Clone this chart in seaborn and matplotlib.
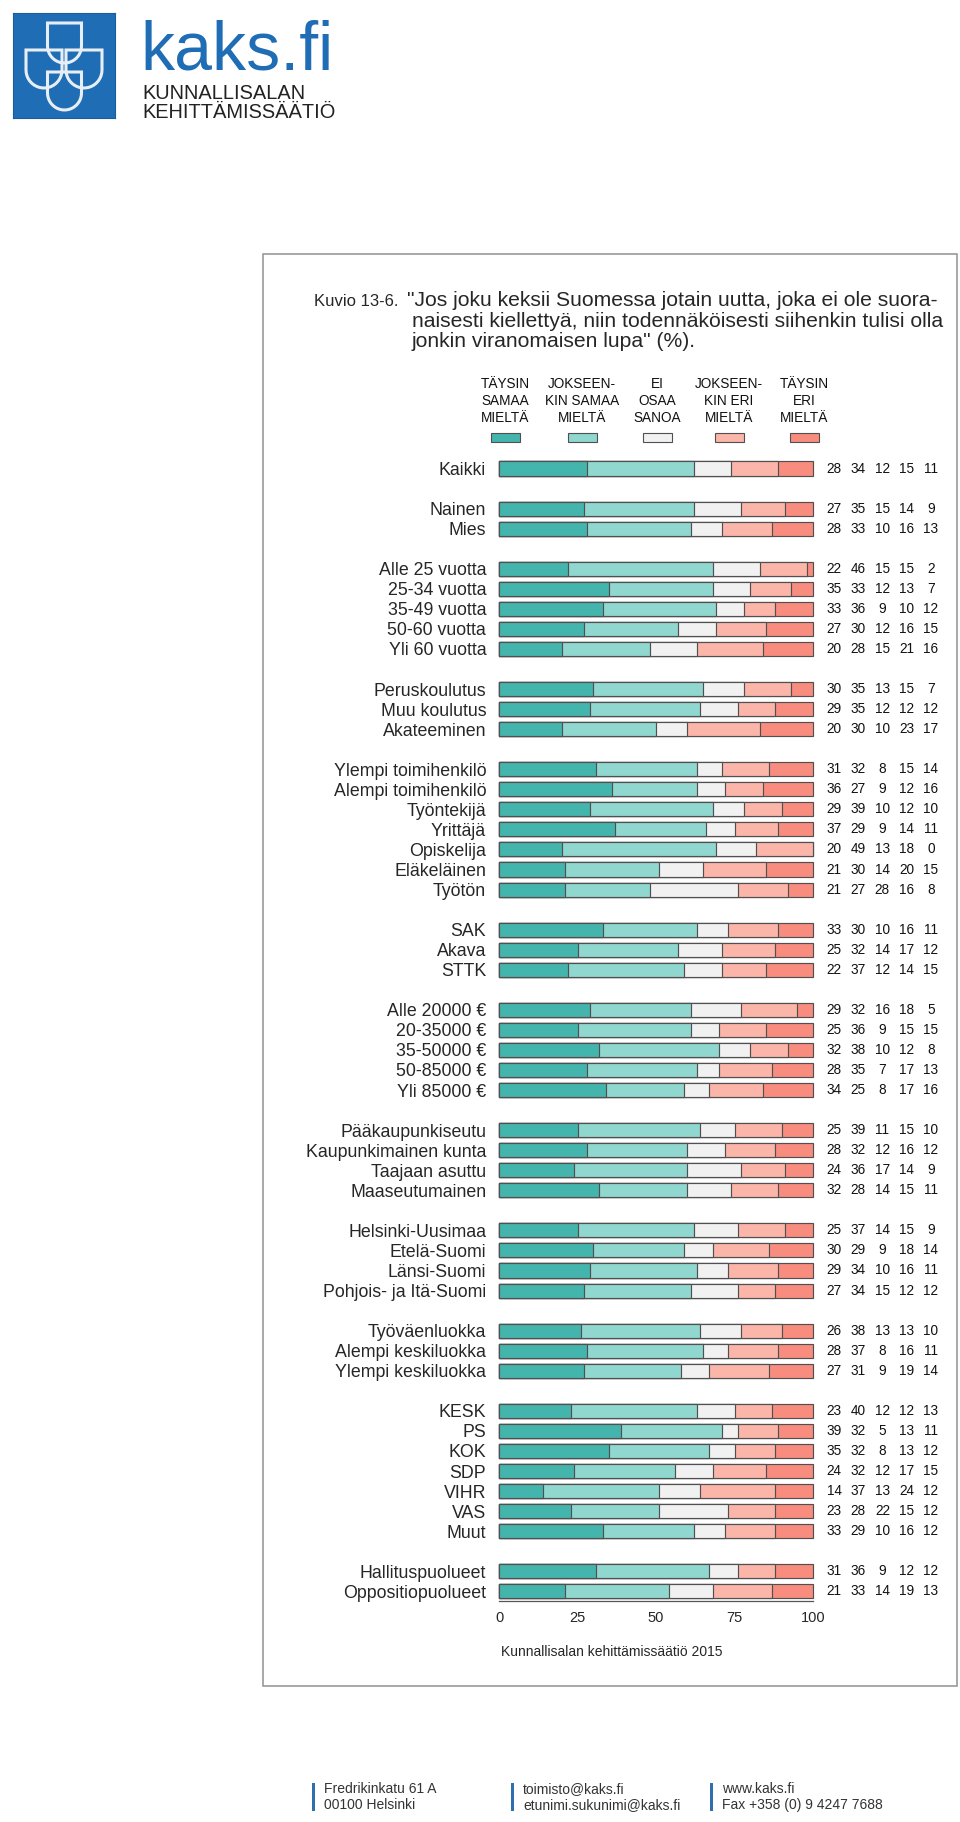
import numpy as np
import pandas as pd
import matplotlib
matplotlib.use("Agg")
import matplotlib.pyplot as plt
import seaborn as sns
from matplotlib.patches import Rectangle, PathPatch
from matplotlib.path import Path

# ---------------- data ----------------
categories = [
    "Kaikki",
    "Nainen", "Mies",
    "Alle 25 vuotta", "25-34 vuotta", "35-49 vuotta", "50-60 vuotta", "Yli 60 vuotta",
    "Peruskoulutus", "Muu koulutus", "Akateeminen",
    "Ylempi toimihenkilö", "Alempi toimihenkilö", "Työntekijä", "Yrittäjä",
    "Opiskelija", "Eläkeläinen", "Työtön",
    "SAK", "Akava", "STTK",
    "Alle 20000 €", "20-35000 €", "35-50000 €", "50-85000 €", "Yli 85000 €",
    "Pääkaupunkiseutu", "Kaupunkimainen kunta", "Taajaan asuttu", "Maaseutumainen",
    "Helsinki-Uusimaa", "Etelä-Suomi", "Länsi-Suomi", "Pohjois- ja Itä-Suomi",
    "Työväenluokka", "Alempi keskiluokka", "Ylempi keskiluokka",
    "KESK", "PS", "KOK", "SDP", "VIHR", "VAS", "Muut",
    "Hallituspuolueet", "Oppositiopuolueet",
]
group_sizes = [1, 2, 5, 3, 7, 3, 5, 4, 4, 3, 7, 2]

taysin_samaa = [28, 27, 28, 22, 35, 33, 27, 20, 30, 29, 20, 31, 36, 29, 37, 20, 21, 21,
                33, 25, 22, 29, 25, 32, 28, 34, 25, 28, 24, 32, 25, 30, 29, 27, 26, 28, 27,
                23, 39, 35, 24, 14, 23, 33, 31, 21]
jokseenkin_samaa = [34, 35, 33, 46, 33, 36, 30, 28, 35, 35, 30, 32, 27, 39, 29, 49, 30, 27,
                    30, 32, 37, 32, 36, 38, 35, 25, 39, 32, 36, 28, 37, 29, 34, 34, 38, 37, 31,
                    40, 32, 32, 32, 37, 28, 29, 36, 33]
ei_osaa_sanoa = [12, 15, 10, 15, 12, 9, 12, 15, 13, 12, 10, 8, 9, 10, 9, 13, 14, 28,
                 10, 14, 12, 16, 9, 10, 7, 8, 11, 12, 17, 14, 14, 9, 10, 15, 13, 8, 9,
                 12, 5, 8, 12, 13, 22, 10, 9, 14]
jokseenkin_eri = [15, 14, 16, 15, 13, 10, 16, 21, 15, 12, 23, 15, 12, 12, 14, 18, 20, 16,
                  16, 17, 14, 18, 15, 12, 17, 17, 15, 16, 14, 15, 15, 18, 16, 12, 13, 16, 19,
                  12, 13, 13, 17, 24, 15, 16, 12, 19]
taysin_eri = [11, 9, 13, 2, 7, 12, 15, 16, 7, 12, 17, 14, 16, 10, 11, 0, 15, 8,
              11, 12, 15, 5, 15, 8, 13, 16, 10, 12, 9, 11, 9, 14, 11, 12, 10, 11, 14,
              13, 11, 12, 15, 12, 12, 12, 12, 13]

legend_labels = ["TÄYSIN\nSAMAA\nMIELTÄ", "JOKSEEN-\nKIN SAMAA\nMIELTÄ", "EI\nOSAA\nSANOA",
                 "JOKSEEN-\nKIN ERI\nMIELTÄ", "TÄYSIN\nERI\nMIELTÄ"]
x_ticks = [0, 25, 50, 75, 100]

title_prefix = "Kuvio 13-6."
title_lines = ['"Jos joku keksii Suomessa jotain uutta, joka ei ole suora-',
               'naisesti kiellettyä, niin todennäköisesti siihenkin tulisi olla',
               'jonkin viranomaisen lupa" (%).']
source_text = "Kunnallisalan kehittämissäätiö 2015"
footer_blocks = [["Fredrikinkatu 61 A", "00100 Helsinki"],
                 ["toimisto@kaks.fi", "etunimi.sukunimi@kaks.fi"],
                 ["www.kaks.fi", "Fax +358 (0) 9 4247 7688"]]

# ---------------- style ----------------
colors = ["#44b5ad", "#8fd7cf", "#f1f1f1", "#fbb5a9", "#f88d7f"]
edge = "#505050"
W, H = 960, 1822
sns.set_style("white")
MAIN = ["Liberation Sans", "DejaVu Sans"]
plt.rcParams["font.family"] = MAIN

fig = plt.figure(figsize=(W / 100, H / 100), dpi=100)
fig.patch.set_facecolor("white")


def fx(x):
    return x / W


def fy(y):
    return 1 - y / H


# ---------------- order with spacer rows ----------------
order, ylabels = [], []
idx = 0
for gi, g in enumerate(group_sizes):
    if gi > 0:
        order.append(" " * gi)
        ylabels.append("")
    for _ in range(g):
        order.append(categories[idx])
        ylabels.append(categories[idx])
        idx += 1
n_rows = len(order)

series = [taysin_samaa, jokseenkin_samaa, ei_osaa_sanoa, jokseenkin_eri, taysin_eri]
df = pd.DataFrame({"cat": categories})
cum = np.zeros(len(categories))
for k, s in enumerate(series):
    cum = cum + np.array(s, dtype=float)
    df[f"cum{k}"] = cum

# ---------------- axes geometry (pixels) ----------------
x0, s = 499.0, 3.14
row0, step = 468.5, 20.05
ax_left = x0 - s * 1
ax_right = x0 + s * 101
ax_top = row0 - step / 2
ax_bot = row0 + (n_rows - 0.5) * step
ax = fig.add_axes([fx(ax_left), fy(ax_bot), (ax_right - ax_left) / W, (ax_bot - ax_top) / H])

for k in reversed(range(5)):
    sns.barplot(data=df, y="cat", x=f"cum{k}", order=order, orient="h",
                color=colors[k], saturation=1, edgecolor=edge, linewidth=0.85,
                width=0.7, errorbar=None, ax=ax)

ax.set_ylim(n_rows - 0.5, -0.5)
ax.set_xlim(-1, 101)
ax.set_yticks(range(n_rows))
ax.set_yticklabels(ylabels, fontsize=12.8)
ax.set_xticks(x_ticks)
ax.set_xticklabels([str(t) for t in x_ticks], fontsize=10.5)
ax.set_xlabel("")
ax.set_ylabel("")
ax.tick_params(axis="y", length=0, pad=7.0)
ax.tick_params(axis="x", length=4, width=0.9, color="#555555", direction="out", pad=3)
for sp in ["left", "right", "top"]:
    ax.spines[sp].set_visible(False)
ax.spines["bottom"].set_bounds(0, 100)
ax.spines["bottom"].set_color("#555555")
ax.spines["bottom"].set_linewidth(0.9)
ax.set_facecolor("none")

# numbers at right
num_x0, num_step = (834 - x0) / s, 24.2 / s
for i, cat in enumerate(categories):
    p = order.index(cat)
    for j, ser in enumerate(series):
        ax.text(num_x0 + j * num_step, p, str(ser[i]), ha="center", va="center",
                fontsize=9.8, color="#111111", clip_on=False)

# ---------------- legend ----------------
leg_cx = [505, 582, 657, 729, 804]
leg_base = [388, 405, 422]
for k, lab in enumerate(legend_labels):
    for li, line in enumerate(lab.split("\n")):
        fig.text(fx(leg_cx[k]), fy(leg_base[li]), line, ha="center", va="baseline",
                 fontsize=9.8, color="#111111")
    fig.patches.append(Rectangle((fx(leg_cx[k] - 14.5), fy(442)), 29 / W, 9 / H,
                                 transform=fig.transFigure, facecolor=colors[k],
                                 edgecolor=edge, linewidth=0.8))

# ---------------- title ----------------
fig.text(fx(314), fy(306.5), title_prefix, ha="left", va="baseline", fontsize=12)
fig.text(fx(407), fy(306.5), title_lines[0], ha="left", va="baseline", fontsize=15.2)
fig.text(fx(412), fy(327), title_lines[1], ha="left", va="baseline", fontsize=15.2)
fig.text(fx(412), fy(347), title_lines[2], ha="left", va="baseline", fontsize=15.2)

# source
fig.text(fx(501), fy(1652), source_text, ha="left", va="center", fontsize=10)

# frame
fig.patches.append(Rectangle((fx(263), fy(1686)), (957 - 263) / W, (1686 - 254) / H,
                             transform=fig.transFigure, fill=False,
                             edgecolor="#9a9a9a", linewidth=1.2))

# ---------------- footer ----------------
foot_x = [313, 512, 711]
for bx, block in zip(foot_x, footer_blocks):
    fig.patches.append(Rectangle((fx(bx - 1.5), fy(1811)), 3 / W, 28 / H,
                                 transform=fig.transFigure, facecolor="#2f6fae",
                                 edgecolor="none"))
    for li, line in enumerate(block):
        fig.text(fx(bx + 11), fy(1789 + li * 16), line, ha="left", va="center",
                 fontsize=10, color="#333333")

# ---------------- logo ----------------
lax = fig.add_axes([fx(13), fy(118), 102 / W, 105 / H])
lax.set_xlim(13, 115)
lax.set_ylim(118, 13)
lax.set_facecolor("#1f6db5")
lax.set_xticks([])
lax.set_yticks([])
for sp in lax.spines.values():
    sp.set_color("#1a5d9c")


def shield(cx, top, w, h):
    r = w / 2
    verts = [(cx - r, top), (cx + r, top), (cx + r, top + h - r)]
    codes = [Path.MOVETO, Path.LINETO, Path.LINETO]
    th = np.linspace(0, np.pi, 20)
    for t in th[1:]:
        verts.append((cx + r * np.cos(t), top + h - r + r * np.sin(t)))
        codes.append(Path.LINETO)
    verts.append((cx - r, top))
    codes.append(Path.CLOSEPOLY)
    return Path(verts, codes)


for (cx, top, w, h) in [(64.5, 23, 34, 40), (44, 50, 36, 38), (84, 50, 36, 38), (64.5, 72, 34, 38)]:
    lax.add_patch(PathPatch(shield(cx, top, w, h), facecolor="none",
                            edgecolor="#e8eef6", linewidth=2.2))

fig.text(fx(140), fy(70), "kaks.fi", ha="left", va="baseline", fontsize=49,
         color="#1f6db5")
fig.text(fx(142), fy(99), "KUNNALLISALAN", ha="left", va="baseline", fontsize=14.4,
         color="#222222")
fig.text(fx(142), fy(118.5), "KEHITTÄMISSÄÄTIÖ", ha="left", va="baseline", fontsize=14.4,
         color="#222222")

fig.savefig("out.png", dpi=100, facecolor="white")
